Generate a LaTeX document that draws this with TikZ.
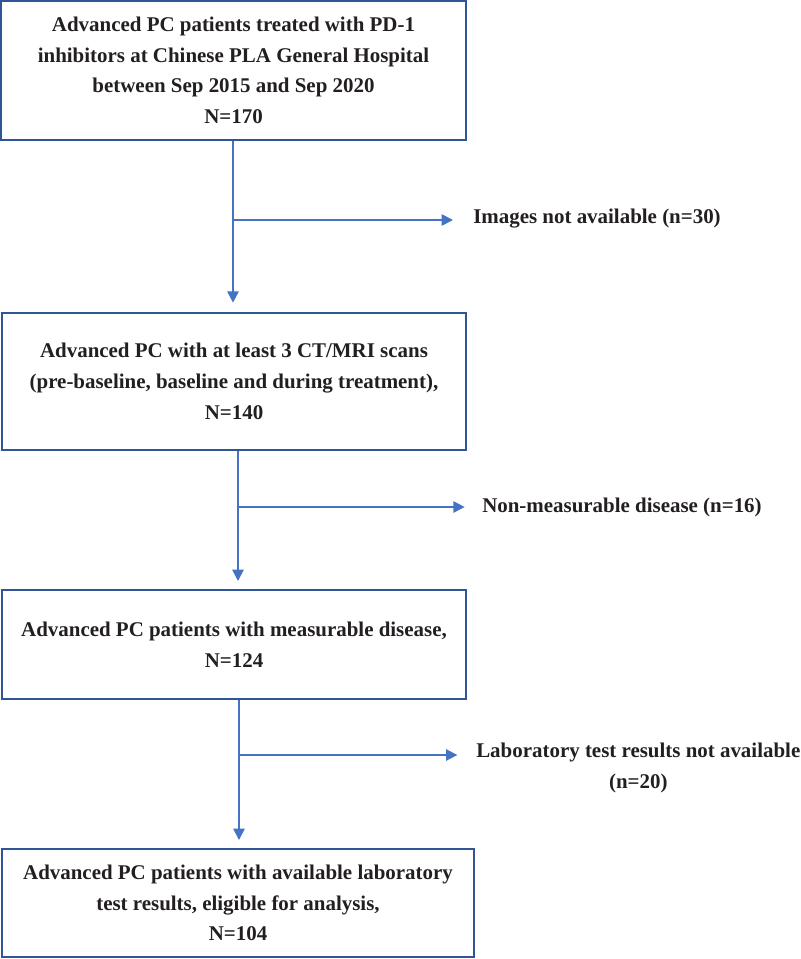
\documentclass[tikz,border=0pt]{standalone}
\usepackage{fontspec}
\setmainfont{Liberation Serif}
\usepackage{tikz}
\usetikzlibrary{arrows.meta}
\definecolor{boxblue}{RGB}{47,85,151}
\definecolor{lineblue}{RGB}{68,114,196}
\definecolor{txt}{RGB}{35,31,32}

\begin{document}
\begin{tikzpicture}[x=0.75pt,y=-0.75pt]
\tikzstyle box=[draw=boxblue, line width=1.5pt, inner sep=0pt, align=center, text=txt, font=\fontsize{15.7}{23}\selectfont\bfseries]
\tikzstyle note=[inner sep=0pt, align=center, text=txt, font=\fontsize{15.7}{23}\selectfont\bfseries]
\tikzstyle flow=[>={Triangle[length=8.5pt,width=8.5pt]}, line width=1.3pt, ->, lineblue]
\useasboundingbox (0,0) rectangle (800,959);

\node[box, minimum width=348.75pt, minimum height=104.25pt] (b1) at (233.5,70.5)
  {Advanced PC patients treated with PD-1\\inhibitors at Chinese PLA General Hospital\\between Sep 2015 and Sep 2020\\N=170};
\node[box, minimum width=348pt, minimum height=102.75pt] (b2) at (234,381.5)
  {Advanced PC with at least 3 CT/MRI scans\\(pre-baseline, baseline and during treatment),\\N=140};
\node[box, minimum width=348pt, minimum height=81.75pt] (b3) at (234,644.5)
  {Advanced PC patients with measurable disease,\\N=124};
\node[box, minimum width=354pt, minimum height=81pt] (b4) at (238,903)
  {Advanced PC patients with available laboratory\\test results, eligible for analysis,\\N=104};

\node[note, anchor=west] (x1) at (473,219) {Images not available (n=30)};
\node[note, anchor=west] (x2) at (482,507) {Non-measurable disease (n=16)};
\node[note, anchor=west] (x3) at (476,768) {Laboratory test results not available\\(n=20)};

\coordinate (j1) at (233,220);
\coordinate (j2) at (238,507);
\coordinate (j3) at (239,755);

\draw[flow, shorten >=7pt] (b1.south -| j1) -- (b2.north -| j1);
\draw[flow, shorten >=6pt] (b2.south -| j2) -- (b3.north -| j2);
\draw[flow, shorten >=6pt] (b3.south -| j3) -- (b4.north -| j3);

\draw[flow, shorten >=15pt] (j1) -- (x1.west |- j1);
\draw[flow, shorten >=13pt] (j2) -- (x2.west |- j2);
\draw[flow, shorten >=14pt] (j3) -- (x3.west |- j3);
\end{tikzpicture}
\end{document}
